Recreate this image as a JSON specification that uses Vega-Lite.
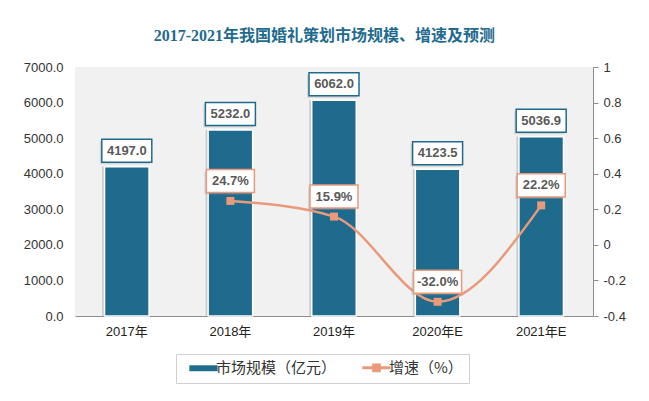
{
  "$schema": "https://vega.github.io/schema/vega-lite/v6.json",
  "width": 518,
  "height": 249,
  "autosize": {"type": "none"},
  "padding": {"left": 75, "top": 67, "right": 56, "bottom": 85},
  "background": "#ffffff",
  "config": {
    "view": {"fill": "#f1f1f1", "stroke": null},
    "font": "Liberation Sans",
    "locale": {"number": {"decimal": ".", "thousands": ",", "grouping": [3], "currency": ["$", ""], "minus": "-"}}
  },
  "title": {
    "text": "2017-2021年我国婚礼策划市场规模、增速及预测",
    "font": "Liberation Serif, Noto Sans CJK SC",
    "fontSize": 16,
    "fontWeight": "bold",
    "color": "#1F6B8E",
    "anchor": "middle",
    "frame": "bounds",
    "offset": 17
  },
  "data": {
    "values": [
      {"year": "2017年", "scale": 4197.0, "growth": null},
      {"year": "2018年", "scale": 5232.0, "growth": 0.247},
      {"year": "2019年", "scale": 6062.0, "growth": 0.159},
      {"year": "2020年E", "scale": 4123.5, "growth": -0.32},
      {"year": "2021年E", "scale": 5036.9, "growth": 0.222}
    ]
  },
  "encoding": {
    "x": {
      "field": "year",
      "type": "nominal",
      "sort": null,
      "scale": {"paddingInner": 0.57, "paddingOuter": 0.285},
      "axis": {
        "title": null,
        "domain": true,
        "domainColor": "#8c8c8c",
        "domainWidth": 1,
        "ticks": false,
        "labelPadding": 9,
        "labelAngle": 0,
        "labelFont": "Liberation Sans, Noto Sans CJK SC",
        "labelFontSize": 13,
        "labelColor": "#222222"
      }
    }
  },
  "layer": [
    {
      "encoding": {
        "y": {
          "field": "scale",
          "type": "quantitative",
          "scale": {"domain": [0, 7000]},
          "axis": {
            "orient": "left",
            "values": [0, 1000, 2000, 3000, 4000, 5000, 6000, 7000],
            "format": ".1f",
            "title": null,
            "domain": false,
            "ticks": false,
            "tickSize": 0,
            "grid": false,
            "labelPadding": 12,
            "labelFontSize": 13,
            "labelColor": "#333333"
          }
        }
      },
      "layer": [
        {"mark": {"type": "bar", "color": "#9e9e9e", "opacity": 0.45, "xOffset": -2.5}},
        {
          "mark": {"type": "bar", "stroke": "#ffffff", "strokeWidth": 1.5, "opacity": 1},
          "encoding": {
            "color": {
              "datum": "市场规模（亿元）",
              "scale": {"domain": ["市场规模（亿元）", "增速（%）"], "range": ["#1F6B8E", "#E99A7A"]},
              "legend": {
                "orient": "none",
                "legendX": 101,
                "legendY": 287,
                "direction": "horizontal",
                "title": null,
                "strokeColor": "#d0d0d0",
                "fillColor": "#ffffff",
                "padding": 6,
                "labelFont": "Noto Sans CJK SC",
                "labelFontSize": 15,
                "labelColor": "#333333",
                "symbolSize": 800,
                "symbolOffset": 14,
                "columnPadding": 18,
                "labelOffset": 5,
                "encode": {
                  "symbols": {
                    "update": {
                      "shape": {"signal": "datum.value === '增速（%）' ? 'M-1,0H1M-0.2,-0.2H0.2V0.2H-0.2Z' : 'M-1,-0.21H1V0.21H-1Z'"},
                      "fill": {"signal": "datum.value === '增速（%）' ? '#E99A7A' : '#1F6B8E'"},
                      "stroke": {"signal": "datum.value === '增速（%）' ? '#E99A7A' : '#1F6B8E'"},
                      "strokeWidth": {"signal": "datum.value === '增速（%）' ? 3 : 0"},
                      "opacity": {"value": 1}
                    }
                  }
                }
              }
            }
          }
        },
        {"mark": {"type": "point", "shape": "M-1,-0.46H1V0.46H-1Z", "size": 2500, "filled": true, "fill": "#a0a0a0", "opacity": 0.35, "xOffset": -2, "yOffset": -14}},
        {"mark": {"type": "point", "shape": "M-1,-0.46H1V0.46H-1Z", "size": 2500, "filled": true, "fill": "#ffffff", "stroke": "#1F6B8E", "strokeWidth": 1.5, "opacity": 1, "yOffset": -16}},
        {
          "mark": {"type": "text", "font": "Liberation Sans", "fontWeight": "bold", "fontSize": 13, "color": "#595959", "baseline": "middle", "yOffset": -16},
          "encoding": {"text": {"field": "scale", "type": "quantitative", "format": ".1f"}}
        }
      ]
    },
    {
      "transform": [{"filter": "datum.growth != null"}],
      "encoding": {
        "y": {
          "field": "growth",
          "type": "quantitative",
          "scale": {"domain": [-0.4, 1]},
          "axis": {
            "orient": "right",
            "values": [-0.4, -0.2, 0, 0.2, 0.4, 0.6, 0.8, 1],
            "format": "~g",
            "title": null,
            "domain": true,
            "domainColor": "#8c8c8c",
            "ticks": true,
            "tickColor": "#8c8c8c",
            "tickSize": 5,
            "grid": false,
            "labelPadding": 5,
            "labelFontSize": 13,
            "labelColor": "#333333"
          }
        }
      },
      "layer": [
        {
          "mark": {"type": "line", "interpolate": "monotone", "strokeWidth": 2.5},
          "encoding": {
            "color": {
              "datum": "增速（%）",
              "legend": {
                "orient": "none",
                "legendX": 101,
                "legendY": 287,
                "direction": "horizontal",
                "title": null,
                "strokeColor": "#d0d0d0",
                "fillColor": "#ffffff",
                "padding": 6,
                "labelFont": "Noto Sans CJK SC",
                "labelFontSize": 15,
                "labelColor": "#333333",
                "symbolSize": 800,
                "symbolOffset": 14,
                "columnPadding": 18,
                "labelOffset": 5,
                "encode": {
                  "symbols": {
                    "update": {
                      "shape": {"signal": "datum.value === '增速（%）' ? 'M-1,0H1M-0.2,-0.2H0.2V0.2H-0.2Z' : 'M-1,-0.21H1V0.21H-1Z'"},
                      "fill": {"signal": "datum.value === '增速（%）' ? '#E99A7A' : '#1F6B8E'"},
                      "stroke": {"signal": "datum.value === '增速（%）' ? '#E99A7A' : '#1F6B8E'"},
                      "strokeWidth": {"signal": "datum.value === '增速（%）' ? 3 : 0"},
                      "opacity": {"value": 1}
                    }
                  }
                }
              }
            }
          }
        },
        {"mark": {"type": "point", "shape": "square", "filled": true, "size": 64, "color": "#E99A7A", "opacity": 1}},
        {"mark": {"type": "point", "shape": "M-1,-0.48H1V0.48H-1Z", "size": 2304, "filled": true, "fill": "#a0a0a0", "opacity": 0.35, "xOffset": -2, "yOffset": -18}},
        {"mark": {"type": "point", "shape": "M-1,-0.48H1V0.48H-1Z", "size": 2304, "filled": true, "fill": "#ffffff", "stroke": "#E99A7A", "strokeWidth": 1.5, "opacity": 1, "yOffset": -20}},
        {
          "mark": {"type": "text", "font": "Liberation Sans", "fontWeight": "bold", "fontSize": 13, "color": "#595959", "baseline": "middle", "yOffset": -20},
          "encoding": {"text": {"field": "growth", "type": "quantitative", "format": ".1%"}}
        }
      ]
    }
  ],
  "resolve": {"scale": {"y": "independent"}}
}
